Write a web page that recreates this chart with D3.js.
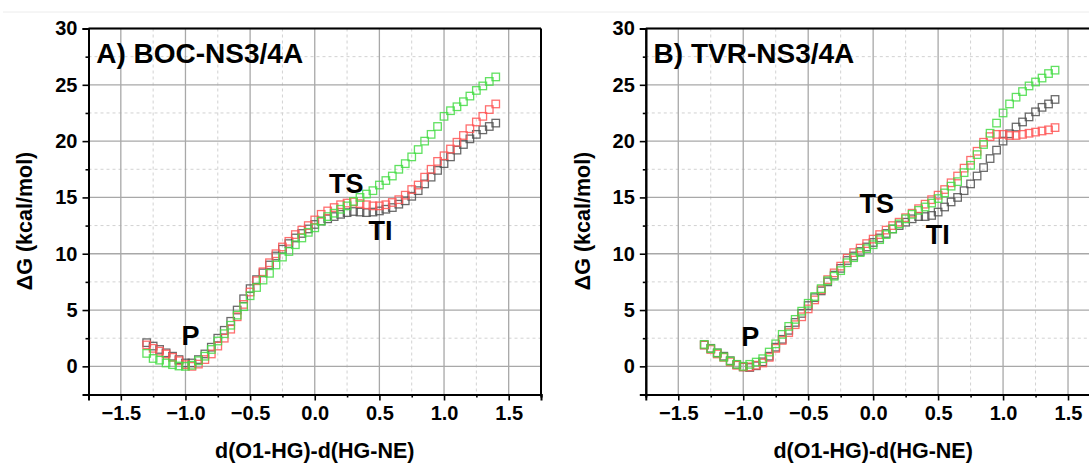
<!DOCTYPE html>
<html>
<head>
<meta charset="utf-8">
<script src="https://cdn.jsdelivr.net/npm/d3@7"></script>
<style>
  body { margin: 0; background: #fff; }
  text { font-family: "Liberation Sans", Arial, sans-serif; font-weight: bold; fill: #000; }
</style>
</head>
<body>
<div id="viz"></div>
<script>
// reaction coordinate, shared by every series
let xValues = [-1.3, -1.25, -1.2, -1.15, -1.1, -1.05, -1.0, -0.95, -0.9, -0.85, -0.8, -0.75, -0.7, -0.65,
  -0.6, -0.55, -0.5, -0.45, -0.4, -0.35, -0.3, -0.25, -0.2, -0.15, -0.1, -0.05, 0, 0.05, 0.1, 0.15,
  0.2, 0.25, 0.3, 0.35, 0.4, 0.45, 0.5, 0.55, 0.6, 0.65, 0.7, 0.75, 0.8, 0.85, 0.9, 0.95, 1.0, 1.05,
  1.1, 1.15, 1.2, 1.25, 1.3, 1.35, 1.4]

// A) BOC-NS3/4A
let bocBlack = [2.1, 1.8, 1.5, 1.2, 0.9, 0.6, 0.3, 0.3, 0.6, 1.1, 1.7, 2.5, 3.2, 4.0,
  5.0, 6.0, 6.9, 7.7, 8.3, 9.0, 9.8, 10.4, 10.9, 11.4, 11.8, 12.2, 12.6, 12.9, 13.1, 13.3,
  13.5, 13.65, 13.75, 13.7, 13.65, 13.7, 13.8, 13.95, 14.1, 14.4, 14.7, 15.1, 15.6, 16.2, 16.8, 17.4, 18.0, 18.6,
  19.2, 19.7, 20.2, 20.6, 21.0, 21.3, 21.6]
let bocRed = [1.9, 1.6, 1.35, 1.1, 0.8, 0.5, 0.15, 0.0, 0.2, 0.6, 1.1, 1.8, 2.5, 3.3,
  4.4, 5.5, 6.6, 7.6, 8.4, 9.2, 10.0, 10.6, 11.1, 11.7, 12.1, 12.5, 13.0, 13.5, 13.8, 14.1,
  14.35, 14.5, 14.6, 14.45, 14.35, 14.25, 14.25, 14.35, 14.55, 14.8, 15.2, 15.7, 16.1, 16.8, 17.5, 18.2, 18.7, 19.3,
  19.9, 20.5, 21.1, 21.7, 22.2, 22.8, 23.3]
let bocGreen = [1.15, 0.7, 0.55, 0.3, 0.15, 0.03, 0.0, 0.1, 0.5, 0.9, 1.5, 2.25, 2.9, 3.65,
  4.55, 5.3, 6.27, 7.0, 7.66, 8.26, 9.0, 9.7, 10.2, 10.8, 11.4, 11.9, 12.3, 12.9, 13.3, 13.6,
  13.95, 14.25, 14.65, 15.0, 15.3, 15.6, 16.1, 16.5, 16.9, 17.5, 18.0, 18.6, 19.25, 20.0, 20.6, 21.3, 22.2, 22.7,
  23.05, 23.5, 24.0, 24.5, 24.9, 25.3, 25.7]

// B) TVR-NS3/4A
let tvrBlack = [1.9, 1.6, 1.2, 0.9, 0.5, 0.15, -0.05, -0.1, 0.05, 0.4, 0.9, 1.7, 2.4, 3.2,
  3.9, 4.7, 5.4, 6.1, 6.7, 7.5, 8.1, 8.7, 9.4, 9.8, 10.2, 10.6, 11.0, 11.4, 11.8, 12.2,
  12.5, 12.8, 13.1, 13.3, 13.3, 13.4, 13.7, 14.15, 14.6, 15.0, 15.6, 16.2, 16.9, 17.65, 18.45, 19.2, 20.0, 20.65,
  21.25, 21.7, 22.15, 22.6, 23.0, 23.3, 23.7]
let tvrRed = [1.9, 1.5, 1.1, 0.8, 0.4, 0.1, -0.05, -0.05, 0.1, 0.3, 0.8, 1.6, 2.3, 3.0,
  3.7, 4.4, 5.1, 5.9, 6.8, 7.7, 8.3, 8.9, 9.6, 10.1, 10.5, 10.9, 11.3, 11.7, 12.1, 12.5,
  12.8, 13.2, 13.6, 14.0, 14.4, 14.8, 15.2, 15.7, 16.3, 16.9, 17.6, 18.3, 19.1, 19.9, 20.4, 20.6, 20.6, 20.5,
  20.5, 20.6, 20.7, 20.8, 20.9, 21.0, 21.2]
let tvrGreen = [1.95, 1.57, 1.18, 0.83, 0.47, 0.18, 0.0, 0.18, 0.38, 0.68, 1.27, 2.0, 2.84, 3.55,
  4.17, 4.9, 5.6, 6.2, 6.9, 7.6, 8.0, 8.5, 9.2, 9.65, 10.1, 10.45, 10.8, 11.25, 11.7, 12.2,
  12.65, 13.1, 13.5, 13.85, 14.15, 14.5, 14.9, 15.4, 16.0, 16.4, 17.2, 17.85, 18.8, 19.7, 20.7, 21.6, 22.5, 23.3,
  23.9, 24.4, 24.9, 25.25, 25.6, 26.0, 26.3]

let xTicks = [-1.5, -1.0, -0.5, 0.0, 0.5, 1.0, 1.5]
let xMinorTicks = [-1.75, -1.25, -0.75, -0.25, 0.25, 0.75, 1.25, 1.75]
let yTicks = [0, 5, 10, 15, 20, 25, 30]
let yMinorTicks = [-2.5, 2.5, 7.5, 12.5, 17.5, 22.5, 27.5]

let seriesColors = ['#505050', '#ff5555', '#44dc44']

let panels = [
  {
    title: 'A) BOC-NS3/4A',
    series: [bocBlack, bocRed, bocGreen],
    left: 88.5, right: 541,
    notes: [{ t: 'TS', x: 0.11, y: 15.4 }, { t: 'TI', x: 0.415, y: 11.2 }, { t: 'P', x: -1.03, y: 1.87 }],
    yLabelX: 32
  },
  {
    title: 'B) TVR-NS3/4A',
    series: [tvrBlack, tvrRed, tvrGreen],
    left: 645.8, right: 1100.5,
    notes: [{ t: 'TS', x: -0.105, y: 13.6 }, { t: 'TI', x: 0.405, y: 10.9 }, { t: 'P', x: -1.015, y: 1.78 }],
    yLabelX: 590
  }
]

let svgContainer = d3.select('#viz')
  .append('svg')
  .attr('width', 1089)
  .attr('height', 465)

svgContainer.append('line')
  .attr('x1', 3).attr('x2', 1089).attr('y1', 12).attr('y2', 12)
  .attr('stroke', '#ececec')

let plotTop = 28.5
let plotBottom = 394.5

panels.forEach((p) => {
  let x = d3.scaleLinear().domain([-1.75, 1.75]).range([p.left, p.right])
  let y = d3.scaleLinear().domain([-2.5, 30]).range([plotBottom, plotTop])
  let g = svgContainer.append('g')

  // minor grid (dashed)
  g.selectAll('.vminor').data(xMinorTicks).enter().append('line')
    .attr('x1', d => x(d)).attr('x2', d => x(d)).attr('y1', plotTop).attr('y2', plotBottom)
    .attr('stroke', '#d2d2d2').attr('stroke-width', 1).attr('stroke-dasharray', '3,3')
  g.selectAll('.hminor').data(yMinorTicks).enter().append('line')
    .attr('x1', p.left).attr('x2', p.right).attr('y1', d => y(d)).attr('y2', d => y(d))
    .attr('stroke', '#d2d2d2').attr('stroke-width', 1).attr('stroke-dasharray', '3,3')

  // major grid
  g.selectAll('.vmajor').data(xTicks).enter().append('line')
    .attr('x1', d => x(d)).attr('x2', d => x(d)).attr('y1', plotTop).attr('y2', plotBottom)
    .attr('stroke', '#a8a8a8').attr('stroke-width', 1.3)
  g.selectAll('.hmajor').data(yTicks).enter().append('line')
    .attr('x1', p.left).attr('x2', p.right).attr('y1', d => y(d)).attr('y2', d => y(d))
    .attr('stroke', '#a8a8a8').attr('stroke-width', 1.3)

  // data, black then red then green on top
  p.series.forEach((vals, i) => {
    g.selectAll('.s' + i).data(vals).enter().append('rect')
      .attr('x', (d, j) => x(xValues[j]) - 3.75)
      .attr('y', d => y(d) - 3.75)
      .attr('width', 7.5)
      .attr('height', 7.5)
      .attr('fill', 'none')
      .attr('stroke', seriesColors[i])
      .attr('stroke-width', 1.3)
      .attr('stroke-opacity', 0.85)
  })

  // frame
  g.append('line').attr('x1', p.left).attr('x2', p.right).attr('y1', plotTop).attr('y2', plotTop)
    .attr('stroke', '#000').attr('stroke-width', 2)
  g.append('line').attr('x1', p.right).attr('x2', p.right).attr('y1', plotTop).attr('y2', plotBottom)
    .attr('stroke', '#000').attr('stroke-width', 2)

  // axes
  let xAxis = g.append('g').attr('transform', 'translate(0,' + plotBottom + ')')
    .call(d3.axisBottom(x).tickValues(xTicks).tickSize(6).tickPadding(5).tickFormat(d3.format('.1f')))
  let xMinorAxis = g.append('g').attr('transform', 'translate(0,' + plotBottom + ')')
    .call(d3.axisBottom(x).tickValues(xMinorTicks).tickSize(3).tickFormat(''))
  let yAxis = g.append('g').attr('transform', 'translate(' + p.left + ',0)')
    .call(d3.axisLeft(y).tickValues(yTicks).tickSize(6).tickPadding(5))
  let yMinorAxis = g.append('g').attr('transform', 'translate(' + p.left + ',0)')
    .call(d3.axisLeft(y).tickValues(yMinorTicks).tickSize(3).tickFormat(''))

  ;[xAxis, xMinorAxis, yAxis, yMinorAxis].forEach((a) => {
    a.select('.domain').attr('stroke', '#000').attr('stroke-width', 2)
    a.selectAll('.tick line').attr('stroke', '#000').attr('stroke-width', 1.6)
    a.selectAll('text').attr('font-size', 20).attr('font-family', '"Liberation Sans", Arial, sans-serif')
      .attr('font-weight', 'bold').attr('fill', '#000')
  })

  // titles and notes
  g.append('text').attr('x', x(-1.69)).attr('y', 63).attr('font-size', 28).text(p.title)
  p.notes.forEach((n) => {
    g.append('text').attr('x', x(n.x)).attr('y', y(n.y)).attr('font-size', 27).text(n.t)
  })

  g.append('text')
    .attr('x', x(0)).attr('y', 458)
    .attr('text-anchor', 'middle').attr('font-size', 21.5)
    .text('d(O1-HG)-d(HG-NE)')
  g.append('text')
    .attr('transform', 'translate(' + p.yLabelX + ',221) rotate(-90)')
    .attr('text-anchor', 'middle').attr('font-size', 21.5)
    .text('ΔG (kcal/mol)')
})
</script>
</body>
</html>
